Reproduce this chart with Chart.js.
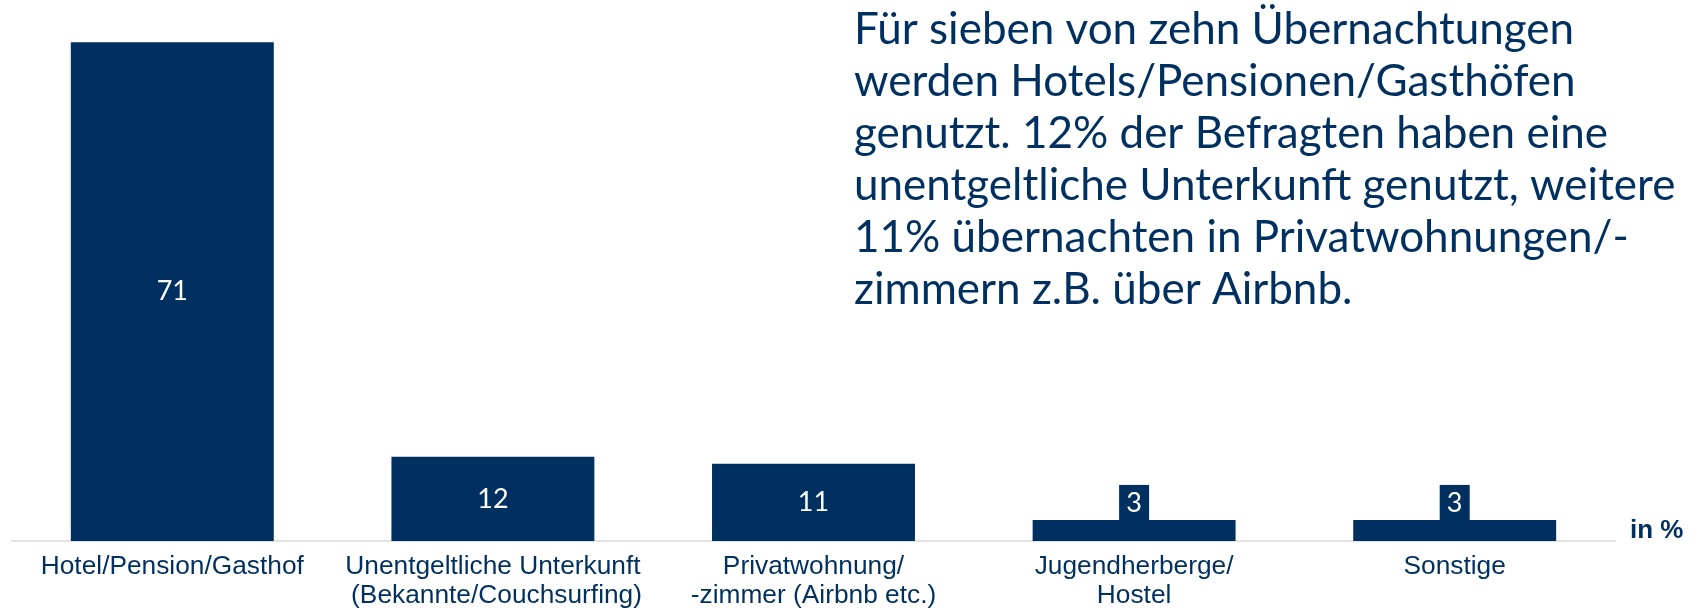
<!DOCTYPE html>
<html>
<head>
<meta charset="utf-8">
<script src="https://cdn.jsdelivr.net/npm/chart.js@4"></script>
<style>
  html, body { margin: 0; padding: 0; background: #fff; }
  #wrap { width: 1701px; height: 611px; position: relative; }
</style>
</head>
<body>
<div id="wrap"><canvas id="myChart" width="1701" height="611"></canvas></div>
<script>
const categories = [
  "Hotel/Pension/Gasthof",
  ["Unentgeltliche Unterkunft", " (Bekannte/Couchsurfing)"],
  ["Privatwohnung/", "-zimmer (Airbnb etc.)"],
  ["Jugendherberge/", "Hostel"],
  "Sonstige"
]
const shares = [71, 12, 11, 3, 3]
const unitLabel = "in %"
const noteLines = [
  "Für sieben von zehn Übernachtungen",
  "werden Hotels/Pensionen/Gasthöfen",
  "genutzt. 12% der Befragten haben eine",
  "unentgeltliche Unterkunft genutzt, weitere",
  "11% übernachten in Privatwohnungen/-",
  "zimmern z.B. über Airbnb."
]

const navy = "#00305f"

// value labels: inside the bar, or in a small box on top when the bar is too short
const valueLabels = {
  id: "valueLabels",
  afterDatasetsDraw(chart) {
    const ctx = chart.ctx
    const meta = chart.getDatasetMeta(0)
    ctx.save()
    ctx.font = "27px Lato"
    ctx.textAlign = "center"
    ctx.textBaseline = "middle"
    meta.data.forEach((bar, i) => {
      const h = bar.base - bar.y
      let cy = bar.y + h / 2
      if (h < 40) {
        ctx.fillStyle = navy
        ctx.fillRect(bar.x - 15, bar.y - 35, 30, 36)
        cy = bar.y - 17
      }
      ctx.fillStyle = "#fff"
      ctx.fillText(String(shares[i]), bar.x, cy)
    })
    ctx.restore()
  }
}

const extraText = {
  id: "extraText",
  afterDraw(chart) {
    const ctx = chart.ctx
    const area = chart.chartArea
    ctx.save()
    ctx.fillStyle = navy
    ctx.font = "bold 26px 'Liberation Sans'"
    ctx.textBaseline = "alphabetic"
    ctx.textAlign = "left"
    ctx.fillText(unitLabel, area.right + 15, area.bottom - 3)

    ctx.font = "44px Lato"
    ctx.textBaseline = "middle"
    noteLines.forEach((line, i) => {
      ctx.fillText(line, 854, 30 + i * 52)
    })
    ctx.restore()
  }
}

new Chart(document.getElementById("myChart").getContext("2d"), {
  type: "bar",
  data: {
    labels: categories,
    datasets: [{
      data: shares,
      backgroundColor: navy,
      borderWidth: 0,
      barPercentage: 0.633,
      categoryPercentage: 1
    }]
  },
  options: {
    responsive: false,
    animation: false,
    layout: { padding: { left: 12, right: 86, top: 7, bottom: 0 } },
    plugins: {
      legend: { display: false },
      tooltip: { enabled: false }
    },
    scales: {
      x: {
        grid: { display: false, drawTicks: false },
        border: { display: true, color: "#e3e3e3", width: 2 },
        ticks: {
          color: navy,
          padding: 11,
          maxRotation: 0,
          autoSkip: false,
          font: { family: "'Liberation Sans'", size: 26.3, lineHeight: 1.1 }
        },
        afterFit(scale) { scale.height = 70 }
      },
      y: {
        display: false,
        min: 0,
        max: 76
      }
    }
  },
  plugins: [valueLabels, extraText]
})
</script>
</body>
</html>
